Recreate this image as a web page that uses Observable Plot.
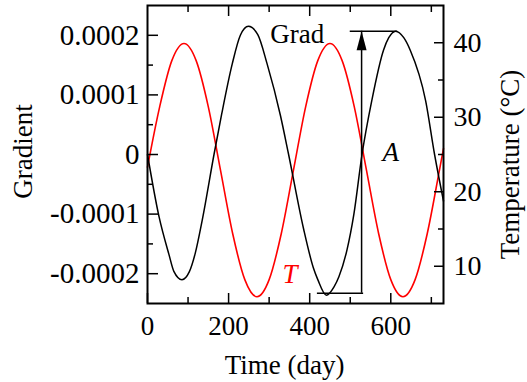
<!DOCTYPE html>
<html><head><meta charset="utf-8">
<script src="https://cdn.jsdelivr.net/npm/d3@7"></script>
<script src="https://cdn.jsdelivr.net/npm/@observablehq/plot@0.6"></script>
<style>body{margin:0;background:#fff}</style>
</head><body><div id="chart"></div>
<script>
// Gradient series (black, left axis)
const gradDays   = [0, 28, 53, 65, 85, 103, 118, 135, 164, 183, 209, 229, 249, 272, 295, 328, 348, 385, 409, 420, 441, 460, 472, 492, 509, 529, 553, 582, 595, 612, 632, 648, 686, 708, 730];
const gradValues = [0, -0.000103, -0.000168, -0.000196, -0.000210, -0.000197, -0.000165, -0.000110, 0, 0.000068, 0.000152, 0.000200, 0.000215, 0.000201, 0.000152, 0.000065, 0, -0.000125, -0.000190, -0.000210, -0.000236, -0.000222, -0.000205, -0.000160, -0.000100, 0, 0.000090, 0.000175, 0.000196, 0.000207, 0.000196, 0.000175, 0.000090, 0, -0.000078];
// Temperature series (red, right axis)
const tempDays   = [0, 30, 60, 90, 120, 150, 180, 210, 240, 270, 300, 330, 360, 390, 420, 450, 480, 510, 540, 570, 600, 630, 660, 690, 720, 730];
const tempValues = [23.3, 31.4, 37.6, 39.9, 37.6, 31.4, 22.9, 14.4, 8.2, 5.9, 8.2, 14.4, 22.9, 31.4, 37.6, 39.9, 37.6, 31.4, 22.9, 14.4, 8.2, 5.9, 8.2, 14.4, 22.9, 25.8];

// Ticks
const xTicksMajor = [0, 200, 400, 600];
const xTicksMinor = [100, 300, 500, 700];
const xTicksTop = [200, 400, 600];
const gradTicksMajor = [-0.0002, -0.0001, 0, 0.0001, 0.0002];
const gradTickLabels = ["-0.0002", "-0.0001", "0", "0.0001", "0.0002"];
const gradTicksMinor = [-0.00015, -0.00005, 0.00005, 0.00015];
const tempTicksMajor = [10, 20, 30, 40];
const tempTicksMinor = [15, 25, 35];

// Annotations (data coordinates)
const labelGrad = [{text: "Grad", day: 303, grad: 0.000202}];
const labelT = [{text: "T", day: 333, grad: -0.000201}];
const labelA = [{text: "A", day: 600, grad: 0.000003}];
const ampLine = [{day: 528, low: -0.000233, high: 0.000207}];
const ampBars = [{from: 500, to: 617, grad: 0.000207}, {from: 419, to: 533, grad: -0.000233}];

// Map temperature onto the gradient scale (right axis 5..45 ↔ left axis ±0.00025)
const gMax = 0.00025, tMid = 25, tHalf = 20;
const toG = t => (t - tMid) / tHalf * gMax;
const toT = g => g / gMax * tHalf + tMid;

const gradData = gradDays.map((d, i) => ({day: d, grad: gradValues[i]}));
const tempData = tempDays.map((d, i) => ({day: d, temp: tempValues[i]}));

const arrowHead = {draw(ctx) { ctx.moveTo(0, 0); ctx.lineTo(5, 19); ctx.lineTo(-5, 19); ctx.closePath(); }};

const FS = 27;
const FF = "Liberation Serif";
const chart = Plot.plot({
  width: 527, height: 382,
  marginLeft: 147, marginRight: 84, marginTop: 5, marginBottom: 79,
  style: {fontFamily: FF, fontSize: FS + "px", background: "#fff", color: "#000"},
  x: {domain: [0, 730], label: null},
  y: {domain: [-gMax, gMax], label: null},
  marks: [
    // curves
    Plot.line(tempData, {x: "day", y: d => toG(d.temp), curve: "monotone-x", stroke: "#ff0000", strokeWidth: 1.6}),
    Plot.line(gradData, {x: "day", y: "grad", curve: "monotone-x", stroke: "#000", strokeWidth: 1.5}),
    // amplitude annotation
    Plot.ruleY(ampBars, {y: "grad", x1: "from", x2: "to", stroke: "#000", strokeWidth: 1.5}),
    Plot.ruleX(ampLine, {x: "day", y1: "low", y2: "high", stroke: "#000", strokeWidth: 1.5}),
    Plot.dot(ampLine, {x: "day", y: "high", symbol: arrowHead, fill: "#000", stroke: "none"}),
    // labels
    Plot.text(labelGrad, {x: "day", y: "grad", text: "text", textAnchor: "start", lineAnchor: "middle", fontSize: FS, fontFamily: FF, fill: "#000"}),
    Plot.text(labelT, {x: "day", y: "grad", text: "text", textAnchor: "start", lineAnchor: "middle", fontSize: FS, fontFamily: FF, fill: "#ff0000", fontStyle: "italic"}),
    Plot.text(labelA, {x: "day", y: "grad", text: "text", textAnchor: "middle", lineAnchor: "middle", fontSize: FS, fontFamily: FF, fill: "#000", fontStyle: "italic"}),
    // bottom axis
    Plot.axisX(xTicksMajor, {anchor: "bottom", tickSize: 0, tickPadding: 12, fontSize: FS, fontFamily: FF, fontVariant: "normal", label: null}),
    Plot.axisX(xTicksMajor, {anchor: "bottom", tickSize: 10, dy: -10, fill: "none", strokeWidth: 1.5, label: null}),
    Plot.axisX(xTicksMinor, {anchor: "bottom", tickSize: 6, dy: -6, fill: "none", strokeWidth: 1.5, label: null}),
    // top axis (ticks only)
    Plot.axisX(xTicksTop, {anchor: "top", tickSize: 10, dy: 10, fill: "none", strokeWidth: 1.5, label: null}),
    Plot.axisX(xTicksMinor, {anchor: "top", tickSize: 6, dy: 6, fill: "none", strokeWidth: 1.5, label: null}),
    // left axis
    Plot.axisY(gradTicksMajor, {anchor: "left", tickSize: 0, tickPadding: 8, fontSize: 29, fontFamily: FF, fontVariant: "normal", label: null,
      tickFormat: g => gradTickLabels[gradTicksMajor.findIndex(v => Math.abs(v - g) < 1e-9)]}),
    Plot.axisY(gradTicksMajor, {anchor: "left", tickSize: 11, dx: 11, fill: "none", strokeWidth: 1.5, label: null}),
    Plot.axisY(gradTicksMinor, {anchor: "left", tickSize: 6, dx: 6, fill: "none", strokeWidth: 1.5, label: null}),
    // right axis (temperature)
    Plot.axisY(tempTicksMajor.map(toG), {anchor: "right", tickSize: 0, tickPadding: 10, fontSize: 28, fontFamily: FF, fontVariant: "normal", label: null,
      tickFormat: g => String(Math.round(toT(g)))}),
    Plot.axisY(tempTicksMajor.map(toG), {anchor: "right", tickSize: 10, dx: -10, fill: "none", strokeWidth: 1.5, label: null}),
    Plot.axisY(tempTicksMinor.map(toG), {anchor: "right", tickSize: 6, dx: -6, fill: "none", strokeWidth: 1.5, label: null}),
    // axis titles
    Plot.text(["Gradient"], {frameAnchor: "left", dx: -124, dy: -3, rotate: -90, text: d => d, textAnchor: "middle", lineAnchor: "middle", fontSize: FS, fontFamily: FF}),
    Plot.text(["Time (day)"], {frameAnchor: "bottom", dx: -11, dy: 62, text: d => d, textAnchor: "middle", lineAnchor: "middle", fontSize: FS, fontFamily: FF}),
    Plot.text(["Temperature (°C)"], {frameAnchor: "right", dx: 67, dy: 10, rotate: -90, text: d => d, textAnchor: "middle", lineAnchor: "middle", fontSize: FS, fontFamily: FF}),
    Plot.frame({stroke: "#000", strokeWidth: 2})
  ]
});
document.getElementById("chart").appendChild(chart);
</script>
</body></html>
